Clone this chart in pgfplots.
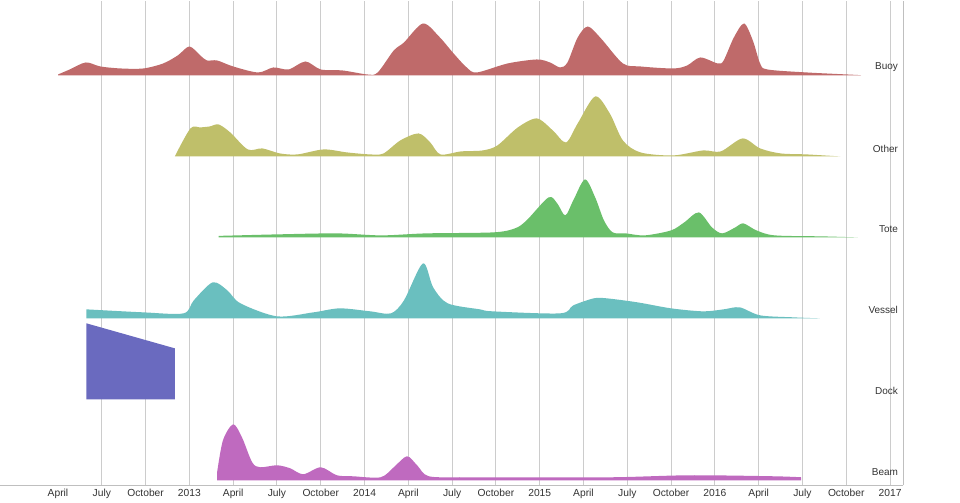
\documentclass[border=0pt]{standalone}
\usepackage{pgfplots}
\pgfplotsset{compat=1.18}
\usepackage{fontspec}
\setmainfont{Liberation Sans}
\definecolor{buoyc}{RGB}{191,106,106}
\definecolor{otherc}{RGB}{191,191,106}
\definecolor{totec}{RGB}{106,191,106}
\definecolor{vesselc}{RGB}{106,191,191}
\definecolor{dockc}{RGB}{106,106,191}
\definecolor{beamc}{RGB}{191,106,191}
\pgfplotsset{ridge/.style={at={(0,0)}, anchor=north west, scale only axis,
  width=677.25pt, height=363.75pt, xmin=-0.94, xmax=60.89,
  ymin={15-#1}, ymax={500-#1}, hide axis}}
\begin{document}
\begin{tikzpicture}
\begin{axis}[at={(0,0)}, anchor=north west, scale only axis,
  width=677.25pt, height=363.75pt,
  xmin=-0.94, xmax=60.89, ymin=15, ymax=500,
  axis x line*=bottom, axis y line*=right, ytick=\empty,
  xtick={6,9,...,60},
  xticklabels={July,October,2013,April,July,October,2014,April,July,October,2015,April,July,October,2016,April,July,October,2017},
  extra x ticks={3}, extra x tick labels={April},
  extra x tick style={grid=none},
  major tick length=0pt,
  xmajorgrids, grid style={black!20, line width=0.75pt},
  axis line style={black!25, line width=0.75pt},
  xticklabel style={font=\fontsize{7.7}{9}\selectfont, text=black!80, yshift=0.75pt},
  clip=false]
\addplot[draw=none] coordinates {(3,100)};
\begin{scope}[every node/.style={anchor=east, font=\fontsize{7.5}{9}\selectfont, text=black!80, inner sep=0pt}]
\node at (axis cs:60.56,433) {Buoy};
\node at (axis cs:60.56,352) {Other};
\node at (axis cs:60.56,271) {Tote};
\node at (axis cs:60.56,190) {Vessel};
\node at (axis cs:60.56,109) {Dock};
\node at (axis cs:60.56,28) {Beam};
\end{scope}
\end{axis}
% Buoy
\begin{axis}[ridge=425]
\addplot[fill=buoyc, draw=none, smooth] table[x=m, y=h] {
m h
3.0 1
3.8 6
4.9 13
5.9 9
7.3 7
8.85 7
10.2 12
11.2 20
12.0 29
12.75 20
13.2 15
13.9 15
15.0 9
16.7 3
17.75 8
18.8 6
19.95 14
21.0 6
22.5 5
24.2 1
24.9 3
26.0 25
26.7 33
28.0 52
29.1 39
30.1 22
31.0 8
31.7 3
33.8 12
35.8 16
36.7 13
37.4 8
37.9 13
38.6 38
39.3 49
40.2 37
41.7 12
42.9 9
45.15 7
46.1 10
47.0 18
48.2 12
48.6 15
49.3 38
50.0 52
50.6 35
51.1 12
51.6 6
54.3 3
57.75 0.5
57.9 0
} \closedcycle;
\end{axis}
% Other
\begin{axis}[ridge=344]
\addplot[fill=otherc, draw=none, smooth] table[x=m, y=h] {
m h
11.0 0
12.07 28
12.75 29
13.4 30
14.0 32
14.8 24
16.0 7
17.0 8
18.2 3
19.4 2
21.2 7
22.8 4
24.4 2
25.3 3
26.45 16
27.7 23
28.5 14
29.2 2
30.6 5
32.1 6
33.1 11
34.5 29
35.8 38
36.9 26
37.8 14
38.6 33
39.8 60
40.8 43
41.7 16
42.9 4
45.15 1
47.2 6
48.4 5
49.9 18
51.1 8
52.5 3
54.3 2
56.6 0
} \closedcycle;
\end{axis}
% Tote
\begin{axis}[ridge=263]
\addplot[fill=totec, draw=none, smooth] table[x=m, y=h] {
m h
14.0 1.5
18.0 3
22.1 4
25.15 2
28.2 4
32.8 5
34.3 9
35.1 17
36.6 40
37.2 34
37.75 22
38.3 37
39.1 58
39.8 40
40.4 17
41.0 5
41.9 4
43.2 2
45.0 7
45.9 15
46.9 25
47.8 10
48.5 4
49.4 10
49.95 14
50.85 7
52.1 2
55.4 1
57.8 0
} \closedcycle;
\end{axis}
% Vessel
\begin{axis}[ridge=182]
\addplot[fill=vesselc, draw=none, smooth] table[x=m, y=h] {
m h
4.95 9
8.85 6
11.6 5
12.3 18
13.6 36
14.6 28
15.5 15
18.0 2
20.5 6
22.3 10
24.4 7
25.8 5
26.7 18
28.0 55
28.7 31
29.7 15
31.9 9
32.8 7
37.4 5
38.3 13
39.7 20
40.6 20
42.7 16
45.0 10
47.2 7
48.6 9
49.7 11
51.1 3
53.4 1
55.2 0
} \closedcycle;
\end{axis}
% Dock
\begin{axis}[ridge=101]
\addplot[fill=dockc, draw=none] table[x=m, y=h] {
m h
4.95 76
11.0 51
} \closedcycle;
\end{axis}
% Beam
\begin{axis}[ridge=20]
\addplot[fill=beamc, draw=none, smooth] table[x=m, y=h] {
m h
13.9 8
14.3 40
15.0 56
15.6 43
16.3 18
16.85 13
18.0 15
18.9 12
19.8 6
21.0 13
22.1 5
23.2 4
25.1 3
26.0 13
26.9 24
27.6 15
28.4 4
30.8 3
34.2 3
41.0 3
46.3 5
52.0 4
53.9 3
} \closedcycle;
\end{axis}
\path (0,0) rectangle (720pt,-375pt);
\end{tikzpicture}
\end{document}
